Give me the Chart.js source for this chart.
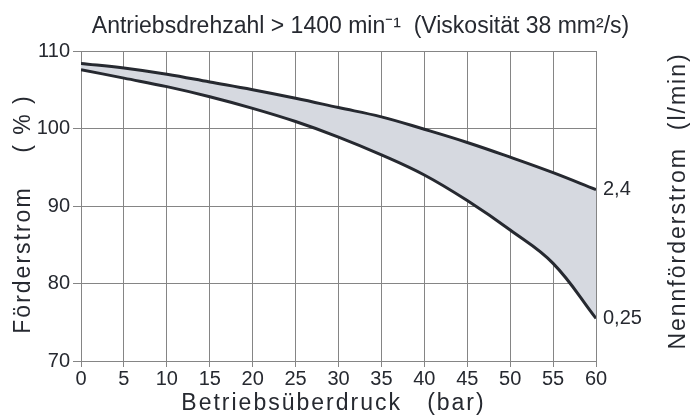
<!DOCTYPE html>
<html><head><meta charset="utf-8">
<script src="https://cdn.jsdelivr.net/npm/chart.js@4"></script>
<style>html,body{margin:0;padding:0;background:#fff}#wrap{width:692px;height:416px}</style>
</head><body><div id="wrap"><canvas id="c" width="692" height="416"></canvas></div>
<script>
const pressure = [0, 5, 10, 15, 20, 25, 30, 35, 40, 45, 50, 55, 60];
const upperFlow = [108.4, 107.8, 107.0, 106.0, 105.0, 103.9, 102.7, 101.5, 99.9, 98.2, 96.3, 94.3, 92.1];
const lowerFlow = [107.6, 106.5, 105.4, 104.1, 102.6, 100.9, 98.9, 96.6, 94.0, 90.7, 86.9, 82.6, 75.5];
const rightTickValues = [92.1, 75.5];
const rightTickLabels = ['2,4', '0,25'];
const titleText = 'Antriebsdrehzahl > 1400 min\u207B\u00B9  (Viskosität 38 mm\u00B2/s)';
const xTitle = 'Betriebsüberdruck   (bar)';
const yTitle = 'Förderstrom    ( % )';
const y2Title = 'Nennförderstrom  (l/min)';

const FONT = '"Liberation Sans", Arial, sans-serif';
const INK = '#262930';
const GRID = '#858585';

const textPlugin = {
  id: 'texts',
  afterDraw(chart) {
    const ctx = chart.ctx, a = chart.chartArea;
    const cx = (a.left + a.right) / 2, cy = (a.top + a.bottom) / 2;
    ctx.save();
    ctx.fillStyle = INK;
    ctx.textAlign = 'center';
    ctx.textBaseline = 'alphabetic';
    ctx.font = '23px ' + FONT;
    ctx.fillText(titleText, cx + 22, a.top - 18);
    ctx.letterSpacing = '2px';
    ctx.fillText(xTitle, cx - 5, a.bottom + 49);
    ctx.save();
    ctx.translate(30, cy + 8);
    ctx.rotate(-Math.PI / 2);
    ctx.fillText(yTitle, 0, 0);
    ctx.restore();
    ctx.save();
    ctx.translate(a.right + 89, cy - 5);
    ctx.rotate(-Math.PI / 2);
    ctx.fillText(y2Title, 0, 0);
    ctx.restore();
    ctx.restore();
  }
};

new Chart(document.getElementById('c'), {
  type: 'line',
  data: {
    datasets: [
      { data: pressure.map((p, i) => ({x: p, y: upperFlow[i]})), borderColor: INK, borderWidth: 3, pointRadius: 0, tension: 0.4, fill: '+1', backgroundColor: '#d6d9e0' },
      { data: pressure.map((p, i) => ({x: p, y: lowerFlow[i]})), borderColor: INK, borderWidth: 3, pointRadius: 0, tension: 0.4, fill: false }
    ]
  },
  plugins: [textPlugin],
  options: {
    responsive: false, animation: false,
    layout: { padding: { top: 51, left: 0, right: 0, bottom: 0 } },
    plugins: {
      legend: { display: false }, tooltip: { enabled: false }, title: { display: false },
      filler: { drawTime: 'beforeDatasetsDraw' }
    },
    scales: {
      x: {
        type: 'linear', min: 0, max: 60,
        ticks: { stepSize: 5, color: INK, font: { family: FONT, size: 20 }, padding: 0, maxRotation: 0 },
        grid: { color: GRID, lineWidth: 1, tickLength: 6 },
        border: { color: GRID, width: 1 },
        afterFit: s => { s.height = 55; }
      },
      y: {
        min: 70, max: 110,
        ticks: { stepSize: 10, color: INK, font: { family: FONT, size: 20 }, padding: 3 },
        grid: { color: GRID, lineWidth: 1, tickLength: 8 },
        border: { color: GRID, width: 1 },
        afterFit: s => { s.width = 81; }
      },
      y2: {
        position: 'right', min: 70, max: 110,
        afterBuildTicks: s => { s.ticks = rightTickValues.map(v => ({ value: v })); },
        ticks: { color: INK, font: { family: FONT, size: 20 }, padding: 7, callback: (v, i) => rightTickLabels[i] },
        grid: { display: false, drawTicks: false },
        border: { color: GRID, width: 1 },
        afterFit: s => { s.width = 96; }
      }
    }
  }
});
</script></body></html>
